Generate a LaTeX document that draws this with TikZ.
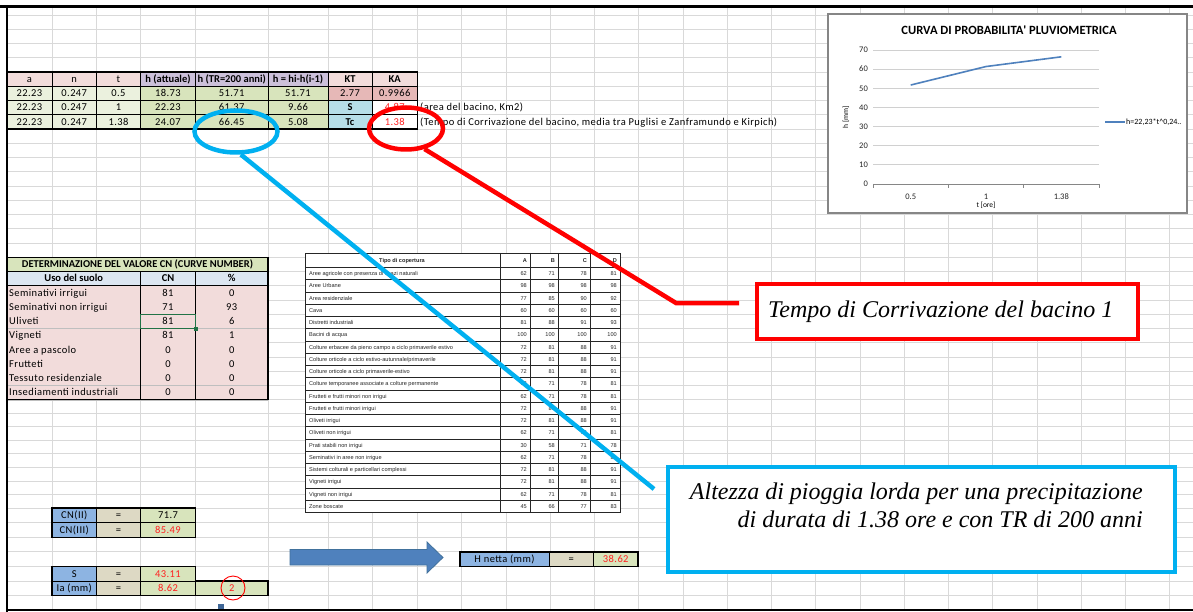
\documentclass[tikz,border=0pt]{standalone}
\usepackage{fontspec}
\setmainfont{Carlito}
\newfontfamily\xlfont{Carlito}[LetterSpace=4]
\newfontfamily\timesf{Liberation Serif}
\newfontfamily\arialf{Liberation Sans}
\usetikzlibrary{shapes.geometric}
\definecolor{gridgray}{HTML}{D9D9D9}
\definecolor{pinkh}{HTML}{F2DCDB}
\definecolor{lav}{HTML}{CCC0DA}
\definecolor{lgreen}{HTML}{EBF1DE}
\definecolor{greenv}{HTML}{D8E4BC}
\definecolor{rosy}{HTML}{E6B8B7}
\definecolor{lblue}{HTML}{B7DEE8}
\definecolor{hblue}{HTML}{DCE6F1}
\definecolor{labblue}{HTML}{8DB4E2}
\definecolor{eqtan}{HTML}{DDD9C4}
\definecolor{xlred}{HTML}{FF2020}
\definecolor{calloutblue}{HTML}{00B0F0}
\definecolor{selgreen}{HTML}{217346}
\definecolor{serieblue}{HTML}{4F81BD}
\definecolor{arrowdark}{HTML}{41719C}
\definecolor{chartgray}{HTML}{868686}
\definecolor{plotgrid}{HTML}{D0D0D0}
\definecolor{scan}{HTML}{262626}
\newcommand{\cellfont}{\xlfont\fontsize{10.5}{12}\selectfont}
\newcommand{\cbold}{\normalfont\bfseries}
\newcommand{\scanfont}{\arialf\fontsize{5.6}{6.5}\selectfont}
\newcommand{\cellC}[7]{\path[#6] (#2,#3) rectangle (#4,#5); \node[ctext] (#1) at ({(#2+#4)/2},{(#3+#5)/2}) {#7};}
\newcommand{\cellL}[7]{\path[#6] (#2,#3) rectangle (#4,#5); \node[ctext,anchor=west] (#1) at ({#2+2},{(#3+#5)/2}) {#7};}
\tikzset{
  gridline/.style={draw=gridgray, line width=0.8pt},
  cellbox/.style={draw=black, line width=0.7pt},
  ctext/.style={font=\cellfont, inner sep=0pt, text height=6.6pt, text depth=0pt},
  outerbox/.style={draw=black, line width=1.4pt},
  scantext/.style={font=\scanfont, text=scan, inner sep=0pt, text height=3.9pt, text depth=0pt},
  scanbold/.style={scantext, font=\arialf\bfseries\fontsize{5.6}{6.5}\selectfont},
  scanline/.style={draw=scan, line width=0.6pt},
  ticklab/.style={font=\fontsize{8.5}{10}\selectfont, inner sep=0pt, text=black!85},
  callout/.style={line width=4.5pt},
}
\begin{document}
\begin{tikzpicture}[x=1pt,y=-1pt]
\useasboundingbox (0,0) rectangle (1193,612);
\fill[white] (0,0) rectangle (1193,612);
% ---------- spreadsheet grid ----------
\foreach \x in {52,96.5,140.5,195.5,268,328,372,417.5} \draw[gridline] (\x,7) -- (\x,610);
\foreach \k in {1,...,17} \draw[gridline] ({417.5+44.25*\k},7) -- ({417.5+44.25*\k},610);
\foreach \k in {0,...,27} \draw[gridline] (7,{15+14.25*\k}) -- (1193,{15+14.25*\k});
\foreach \k in {1,...,8} \draw[gridline] (7,{399.75+13.53125*\k}) -- (1193,{399.75+13.53125*\k});
\foreach \k in {1,...,6} \draw[gridline] (7,{508+14.6*\k}) -- (1193,{508+14.6*\k});
% ---------- top table ----------
\cellC{ha}{7}{72}{52}{86.25}{cellbox,fill=pinkh}{a}
\cellC{hn}{52}{72}{96.5}{86.25}{cellbox,fill=pinkh}{n}
\cellC{ht}{96.5}{72}{140.5}{86.25}{cellbox,fill=pinkh}{t}
\cellC{hh}{140.5}{72}{195.5}{86.25}{cellbox,fill=lav}{\cbold h (attuale)}
\cellC{htr}{195.5}{72}{268}{86.25}{cellbox,fill=lav}{\cbold h (TR=200 anni)}
\cellC{hd}{268}{72}{328}{86.25}{cellbox,fill=lav}{\cbold h = hi-h(i-1)}
\cellC{hkt}{328}{72}{372}{86.25}{cellbox,fill=pinkh}{\cbold KT}
\cellC{hka}{372}{72}{417.5}{86.25}{cellbox,fill=pinkh}{\cbold KA}
\foreach \r/\ya/\yb/\t/\h/\htr/\hd in {1/86.25/100.5/0.5/18.73/51.71/51.71, 2/100.5/114.75/1/22.23/61.37/9.66, 3/114.75/129/1.38/24.07/66.45/5.08}{
  \cellC{r\r-a}{7}{\ya}{52}{\yb}{cellbox,fill=lgreen}{22.23}
  \cellC{r\r-n}{52}{\ya}{96.5}{\yb}{cellbox,fill=lgreen}{0.247}
  \cellC{r\r-t}{96.5}{\ya}{140.5}{\yb}{cellbox,fill=lgreen}{\t}
  \cellC{r\r-h}{140.5}{\ya}{195.5}{\yb}{cellbox,fill=greenv}{\h}
  \cellC{r\r-tr}{195.5}{\ya}{268}{\yb}{cellbox,fill=greenv}{\htr}
  \cellC{r\r-d}{268}{\ya}{328}{\yb}{cellbox,fill=greenv}{\hd}
}
\cellC{r1-kt}{328}{86.25}{372}{100.5}{cellbox,fill=rosy}{2.77}
\cellC{r1-ka}{372}{86.25}{417.5}{100.5}{cellbox,fill=rosy}{0.9966}
\cellC{r2-kt}{328}{100.5}{372}{114.75}{cellbox,fill=lblue}{\cbold S}
\cellC{r2-ka}{372}{100.5}{417.5}{114.75}{cellbox,fill=white}{\color{xlred}4.87}
\cellC{r3-kt}{328}{114.75}{372}{129}{cellbox,fill=lblue}{\cbold Tc}
\cellC{r3-ka}{372}{114.75}{417.5}{129}{cellbox,fill=white}{\color{xlred}1.38}
\draw[outerbox] (7,72) rectangle (417.5,129);
\node[ctext,anchor=west] (note-s) at (420,107.6) {(area del bacino, Km2)};
\node[ctext,anchor=west] (note-tc) at (420,121.9) {(Tempo di Corrivazione del bacino, media tra Puglisi e Zanframundo e Kirpich)};
% ---------- CN table ----------
\cellC{cn-title}{7}{257.25}{268}{271.5}{cellbox,fill=greenv}{\cbold DETERMINAZIONE DEL VALORE CN (CURVE NUMBER)}
\cellC{cn-h1}{7}{271.5}{140.5}{285.75}{cellbox,fill=hblue}{\cbold Uso del suolo}
\cellC{cn-h2}{140.5}{271.5}{195.5}{285.75}{cellbox,fill=hblue}{\cbold CN}
\cellC{cn-h3}{195.5}{271.5}{268}{285.75}{cellbox,fill=hblue}{\cbold \%}
\foreach \lab/\cn/\pc [count=\i] in {Seminativi irrigui/81/0, Seminativi non irrigui/71/93, Uliveti/81/6, Vigneti/81/1, Aree a pascolo/0/0, Frutteti/0/0, Tessuto residenziale/0/0, Insediamenti industriali/0/0}{
  \pgfmathsetmacro\yy{285.75+14.25*(\i-1)}
  \pgfmathsetmacro\yz{\yy+14.25}
  \cellL{cn-\i-a}{7}{\yy}{140.5}{\yz}{fill=pinkh}{\lab}
  \cellC{cn-\i-b}{140.5}{\yy}{195.5}{\yz}{fill=pinkh}{\cn}
  \cellC{cn-\i-c}{195.5}{\yy}{268}{\yz}{fill=pinkh}{\pc}
  \draw[black!25, line width=0.5pt] (7,\yz) -- (268,\yz);
}
\draw[black, line width=0.7pt] (140.5,285.75) -- (140.5,399.75) (195.5,285.75) -- (195.5,399.75);
\draw[outerbox] (7,257.25) rectangle (268,399.75);
\draw[selgreen, line width=1.5pt] (140.5,314.25) rectangle (195.5,328.5);
\fill[selgreen] (193.5,326.5) rectangle (197.5,330.5);
% ---------- bottom tables ----------
\cellC{cn2-a}{52}{508}{96.5}{522.6}{cellbox,fill=labblue}{CN(II)}
\cellC{cn2-b}{96.5}{508}{140.5}{522.6}{cellbox,fill=eqtan}{=}
\cellC{cn2-c}{140.5}{508}{195.5}{522.6}{cellbox,fill=greenv}{71.7}
\cellC{cn3-a}{52}{522.6}{96.5}{537.2}{cellbox,fill=labblue}{CN(III)}
\cellC{cn3-b}{96.5}{522.6}{140.5}{537.2}{cellbox,fill=eqtan}{=}
\cellC{cn3-c}{140.5}{522.6}{195.5}{537.2}{cellbox,fill=greenv}{\color{xlred}85.49}
\draw[outerbox] (52,508) rectangle (195.5,537.2);
\cellC{s-a}{52}{566.4}{96.5}{581}{cellbox,fill=labblue}{S}
\cellC{s-b}{96.5}{566.4}{140.5}{581}{cellbox,fill=eqtan}{=}
\cellC{s-c}{140.5}{566.4}{195.5}{581}{cellbox,fill=greenv}{\color{xlred}43.11}
\cellC{ia-a}{52}{581}{96.5}{595.6}{cellbox,fill=labblue}{Ia (mm)}
\cellC{ia-b}{96.5}{581}{140.5}{595.6}{cellbox,fill=eqtan}{=}
\cellC{ia-c}{140.5}{581}{195.5}{595.6}{cellbox,fill=greenv}{\color{xlred}8.62}
\cellC{ia-d}{195.5}{581}{268}{595.6}{cellbox,fill=greenv}{\color{xlred}2}
\draw[outerbox] (52,566.4) rectangle (195.5,595.6);
\draw[outerbox] (195.5,581) rectangle (268,595.6);
\node[circle, draw=red, line width=0.9pt, minimum size=24pt, inner sep=0pt] (circ2) at (233,588) {};
\cellC{hn-a}{460}{551.8}{549}{566.4}{cellbox,fill=labblue}{H netta (mm)}
\cellC{hn-b}{549}{551.8}{593.5}{566.4}{cellbox,fill=eqtan}{=}
\cellC{hn-c}{593.5}{551.8}{638}{566.4}{cellbox,fill=greenv}{\color{xlred}38.62}
\draw[outerbox] (460,551.8) rectangle (638,566.4);
\filldraw[fill=serieblue, draw=arrowdark, line width=0.8pt] (290,549.5) -- (427,549.5) -- (427,542) -- (443,557.5) -- (427,573) -- (427,565) -- (290,565) -- cycle;
\fill[serieblue!80!black] (218,604) rectangle (224,611);
% ---------- scanned cover table ----------
\filldraw[fill=white, scanline] (305,253) rectangle (620,512.5);
\foreach \x in {500,530,558,590} \draw[scanline] (\x,253) -- (\x,512.5);
\draw[scanline] (305,267.5) -- (620,267.5);
\node[scanbold] (cov-h) at (402,260.5) {Tipo di copertura};
\foreach \c/\x in {A/527,B/555,C/587,D/617} \node[scanbold,anchor=east] (cov-h\c) at (\x,260.5) {\c};
\foreach \lab/\a/\b/\c/\d [count=\i] in {Aree agricole con presenza di spazi naturali/62/71/78/81, Aree Urbane/98/98/98/98, Area residenziale/77/85/90/92, Cava/60/60/60/60, Distretti industriali/81/88/91/93, Bacini di acqua/100/100/100/100, Colture erbacee da pieno campo a ciclo primaverile estivo/72/81/88/91, {Colture orticole a ciclo estivo-autunnale/primaverile}/72/81/88/91, Colture orticole a ciclo primaverile-estivo/72/81/88/91, Colture temporanee associate a colture permanente/62/71/78/81, Frutteti e frutti minori  non irrigui/62/71/78/81, Frutteti e frutti minori irrigui/72/81/88/91, Oliveti irrigui/72/81/88/91, Oliveti non irrigui/62/71/78/81, Prati stabili non irrigui/30/58/71/78, Seminativi in aree non irrigue/62/71/78/81, Sistemi colturali e particellari complessi/72/81/88/91, Vigneti irrigui/72/81/88/91, Vigneti non irrigui/62/71/78/81, Zone boscate/45/66/77/83}{
  \pgfmathsetmacro\yy{267.5+12.25*(\i-1)}
  \pgfmathsetmacro\ym{\yy+6.125}
  \pgfmathsetmacro\yz{\yy+12.25}
  \draw[scanline] (305,\yz) -- (620,\yz);
  \node[scantext,anchor=west] (cov-\i) at (309,\ym) {\lab};
  \node[scantext,anchor=east] (cov-\i-a) at (527,\ym) {\a};
  \node[scantext,anchor=east] (cov-\i-b) at (555,\ym) {\b};
  \node[scantext,anchor=east] (cov-\i-c) at (587,\ym) {\c};
  \node[scantext,anchor=east] (cov-\i-d) at (617,\ym) {\d};
}
% ---------- chart ----------
\filldraw[fill=white, draw=chartgray, line width=1.2pt] (828,14) rectangle (1187,213);
\node[font=\bfseries\fontsize{12.6}{14}\selectfont, inner sep=0pt] (ctitle) at (1009,30) {CURVA DI PROBABILITA\textquotesingle{} PLUVIOMETRICA};
\foreach \v in {10,20,...,70} \draw[plotgrid, line width=0.8pt] (873,{184-1.914*\v}) -- (1099,{184-1.914*\v});
\foreach \v in {0,10,...,70} \node[ticklab, anchor=east] (yt\v) at (868,{184-1.914*\v}) {\v};
\draw[chartgray, line width=0.8pt] (873,184) -- (1099,184);
\foreach \x in {873,948.33,1023.67,1099} \draw[chartgray, line width=0.8pt] (\x,184) -- (\x,188);
\node[ticklab] (xt1) at (910.7,197) {0.5};
\node[ticklab] (xt2) at (986,197) {1};
\node[ticklab] (xt3) at (1061.3,197) {1.38};
\node[font=\fontsize{7.5}{9}\selectfont, inner sep=0pt] (xlab) at (986,205) {t [ore]};
\node[font=\fontsize{7.5}{9}\selectfont, inner sep=0pt, rotate=90] (ylab) at (846,117) {h [mm]};
\draw[serieblue, line width=1.6pt, line join=round] (910.7,{184-1.914*51.71}) -- (986,{184-1.914*61.37}) -- (1061.3,{184-1.914*66.45});
\draw[serieblue, line width=1.6pt] (1105,122) -- (1125,122);
\node[font=\fontsize{8}{9}\selectfont, inner sep=0pt, anchor=west] (legend) at (1126,122) {h=22,23*t\^{}0,24..};
% ---------- frame ----------
\draw[black, line width=3pt] (0,7) -- (1193,7);
\draw[black, line width=2.5pt] (7,7) -- (7,612);
\draw[black, line width=2pt] (7,610) -- (1193,610);
% ---------- callouts ----------
\node[draw=red, callout, fill=white, minimum width=381pt, minimum height=55pt, inner sep=0pt, anchor=north west] (rbox) at (754.5,281.5) {};
\node[font=\timesf\itshape\fontsize{24}{28}\selectfont, inner sep=0pt, anchor=base west] (rtxt) at (768,317) {Tempo di Corrivazione del bacino 1};
\node[draw=calloutblue, callout, fill=white, minimum width=507pt, minimum height=105pt, inner sep=0pt, anchor=north west] (bbox) at (665.5,464.5) {};
\node[font=\timesf\itshape\fontsize{24}{28}\selectfont, inner sep=0pt, anchor=north east, align=right] (btxt) at (1143,482.5) {Altezza di pioggia lorda per una precipitazione\\di durata di 1.38 ore e con TR di 200 anni};
\node[ellipse, draw=calloutblue, callout, minimum width=83pt, minimum height=42pt, inner sep=0pt] (bell) at (236,131.5) {};
\node[ellipse, draw=red, callout, minimum width=74pt, minimum height=42pt, inner sep=0pt] (rell) at (406,128.5) {};
\coordinate (bend) at (654,489);
\coordinate (rknee) at (676,303);
\coordinate (rend) at (739,303);
\draw[calloutblue, callout] (bell.-78) -- (bend);
\draw[red, callout] (rell.-48) -- (rknee) -- (rend);
\end{tikzpicture}
\end{document}
